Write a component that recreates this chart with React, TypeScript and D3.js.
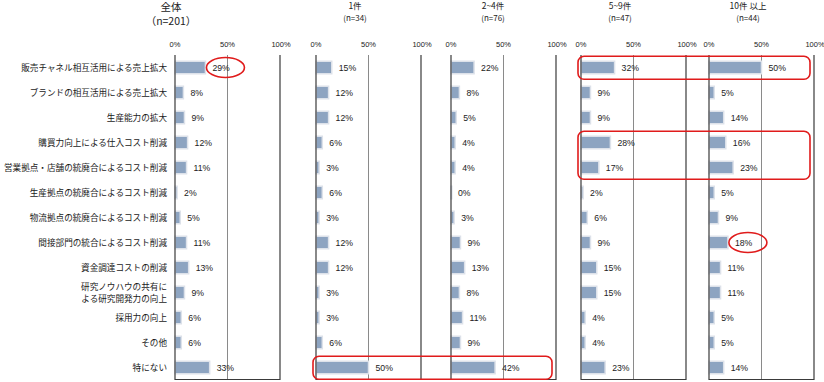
import React from "react";
import * as d3 from "d3";

const categories: string[][] = [
  ["販売チャネル相互活用による売上拡大"],
  ["ブランドの相互活用による売上拡大"],
  ["生産能力の拡大"],
  ["購買力向上による仕入コスト削減"],
  ["営業拠点・店舗の統廃合によるコスト削減"],
  ["生産拠点の統廃合によるコスト削減"],
  ["物流拠点の統廃合によるコスト削減"],
  ["間接部門の統合によるコスト削減"],
  ["資金調達コストの削減"],
  ["研究ノウハウの共有に", "よる研究開発力の向上"],
  ["採用力の向上"],
  ["その他"],
  ["特にない"],
];

const panelTitles = ["全体", "1件", "2~4件", "5~9件", "10件 以上"];
const panelSubtitles = ["（n=201）", "(n=34)", "(n=76)", "(n=47)", "(n=44)"];

const totalValues = [29, 8, 9, 12, 11, 2, 5, 11, 13, 9, 6, 6, 33];
const oneValues = [15, 12, 12, 6, 3, 6, 3, 12, 12, 3, 3, 6, 50];
const twoFourValues = [22, 8, 5, 4, 4, 0, 3, 9, 13, 8, 11, 9, 42];
const fiveNineValues = [32, 9, 9, 28, 17, 2, 6, 9, 15, 15, 4, 4, 23];
const tenPlusValues = [50, 5, 14, 16, 23, 5, 9, 18, 11, 11, 5, 5, 14];

const tickValues = [0, 50, 100];

// annotations described in data terms (panel/row indices)
const ellipseNotes = [
  { panel: 0, row: 0 },
  { panel: 4, row: 7 },
];
const boxNotes = [
  { panelFrom: 3, panelTo: 4, rowFrom: 0, rowTo: 0 },
  { panelFrom: 3, panelTo: 4, rowFrom: 3, rowTo: 4 },
  { panelFrom: 1, panelTo: 2, rowFrom: 12, rowTo: 12 },
];

const allValues = [totalValues, oneValues, twoFourValues, fiveNineValues, tenPlusValues];
const panelLeft = [175, 316, 451, 581, 709];
const panelWidth = 105;
const titleX = [171, 355, 493, 620, 748];

const W = 824;
const H = 382;
const top = 55;
const bottom = 380;

const FONT = "'Liberation Sans', Arial, 'Noto Sans CJK JP', sans-serif";
const JFONT = "'Noto Sans CJK JP', sans-serif";
const BAR = "#8da4c1";
const RED = "#e01b1b";

export default function App() {
  const y = d3
    .scaleBand<number>()
    .domain(d3.range(categories.length))
    .range([top, bottom])
    .paddingInner(0.5)
    .paddingOuter(0.25);
  const step = y.step();
  const rowCenter = (i: number) => (y(i) as number) + y.bandwidth() / 2;
  const xs = panelLeft.map((l) => d3.scaleLinear().domain([0, 100]).range([l, l + panelWidth]));

  return (
    <svg
      width={W}
      height={H}
      style={{ position: "absolute", left: 0, top: 0, background: "#fff" }}
      fontFamily={FONT}
    >
      {/* category labels */}
      {categories.map((lines, i) => (
        <text
          key={"c" + i}
          x={167}
          y={rowCenter(i)}
          textAnchor="end"
          fontSize={8.6}
          fontFamily={JFONT}
          fill="#1a1a1a"
        >
          {lines.map((ln, k) => (
            <tspan
              key={k}
              x={167}
              dy={k === 0 ? (lines.length === 1 ? 3 : -3) : 12}
            >
              {ln}
            </tspan>
          ))}
        </text>
      ))}

      {allValues.map((vals, p) => {
        const x = xs[p];
        const isMain = p === 0;
        return (
          <g key={"p" + p}>
            <text
              x={titleX[p]}
              y={isMain ? 11 : 9}
              textAnchor="middle"
              fontSize={isMain ? 10.5 : 8.5}
              fontFamily={JFONT}
              fill="#222"
            >
              {panelTitles[p]}
            </text>
            <text
              x={titleX[p]}
              y={isMain ? 25 : 21}
              textAnchor="middle"
              fontSize={isMain ? 10.5 : 8}
              fontFamily={JFONT}
              fill="#222"
            >
              {panelSubtitles[p]}
            </text>
            {tickValues.map((t) => (
              <text
                key={"t" + t}
                x={x(t) + (t === 100 ? 1 : 0)}
                y={47}
                textAnchor="middle"
                fontSize={7.5}
                fill="#222"
              >
                {t}%
              </text>
            ))}
            {/* 50% gridline */}
            <line x1={x(50)} x2={x(50)} y1={top} y2={bottom} stroke="#8a8a8a" strokeWidth={1} />
            {/* bars */}
            {vals.map((v, i) => (
              <g key={"b" + i}>
                <rect
                  x={x(0)}
                  y={y(i) as number}
                  width={Math.max(x(v) - x(0), 0.8)}
                  height={y.bandwidth()}
                  fill={BAR}
                  stroke="#dde2ea"
                  strokeWidth={1.5}
                />
                <text
                  x={x(v) + 7}
                  y={rowCenter(i) + 3}
                  fontSize={8.7}
                  fill="#222"
                >
                  {v}%
                </text>
              </g>
            ))}
            {/* axis lines */}
            <line x1={x(0)} x2={x(0)} y1={top} y2={bottom} stroke="#3a3a3a" strokeWidth={1.2} />
            <line x1={x(100)} x2={x(100)} y1={top} y2={bottom} stroke="#3a3a3a" strokeWidth={1.2} />
            <line x1={x(0)} x2={x(100)} y1={bottom - 0.5} y2={bottom - 0.5} stroke="#3a3a3a" strokeWidth={1} />
          </g>
        );
      })}

      {/* annotations */}
      {ellipseNotes.map((n, k) => {
        const x = xs[n.panel];
        const v = allValues[n.panel][n.row];
        const cx = x(v) + 7 + 10;
        return (
          <ellipse
            key={"e" + k}
            cx={cx + 3}
            cy={rowCenter(n.row)}
            rx={19}
            ry={10}
            fill="none"
            stroke={RED}
            strokeWidth={1.6}
          />
        );
      })}
      {boxNotes.map((n, k) => {
        const x0 = xs[n.panelFrom](0) - 3;
        const x1 = xs[n.panelTo](100) - 4;
        const y0 = (y(n.rowFrom) as number) - step * 0.2;
        const y1 = (y(n.rowTo) as number) + y.bandwidth() + step * 0.22;
        return (
          <rect
            key={"r" + k}
            x={x0}
            y={y0}
            width={x1 - x0}
            height={y1 - y0}
            rx={6}
            ry={6}
            fill="none"
            stroke={RED}
            strokeWidth={1.6}
          />
        );
      })}
    </svg>
  );
}
